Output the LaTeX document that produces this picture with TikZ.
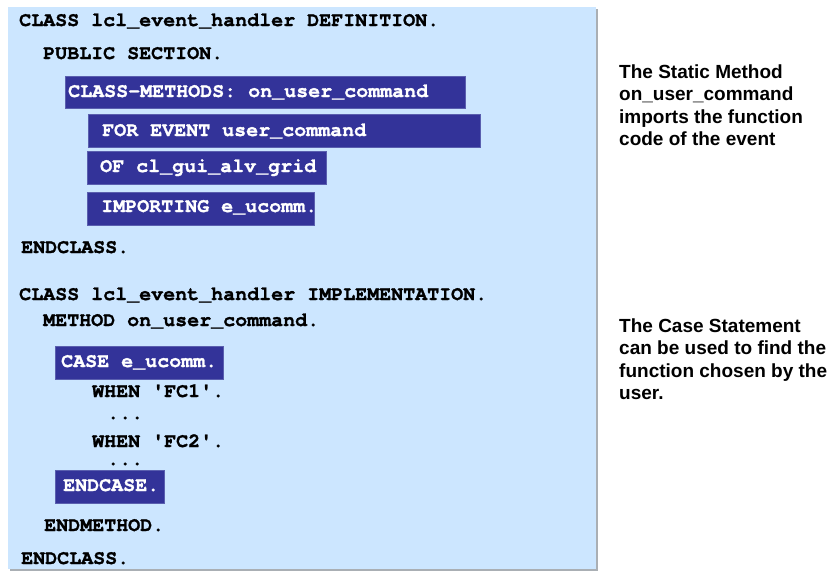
\documentclass[tikz,border=0pt]{standalone}
\usepackage{fontspec}
\setmainfont{Liberation Sans}
\newfontfamily\codefont{texgyrecursor}[Extension=.otf, UprightFont=*-regular, BoldFont=*-bold, BoldFeatures={FakeBold=1.3}]
\newfontfamily\notefont{Liberation Sans}
\definecolor{panelblue}{RGB}{204,230,255}
\definecolor{boxblue}{RGB}{51,51,153}
\definecolor{boxedge}{RGB}{90,95,175}
\definecolor{shadowgray}{RGB}{170,175,180}
\tikzset{
  code/.style={anchor=base west, inner sep=0pt, font=\codefont\bfseries\fontsize{20}{22}\selectfont, text=black},
  hcode/.style={code, text=white},
  dots/.style={code, text height=4pt, text depth=0pt},
  hbox/.style={fill=boxblue, draw=boxedge, line width=0.8pt},
  note/.style={anchor=base west, inner sep=0pt, align=left, font=\notefont\bfseries\fontsize{19}{22.5}\selectfont, text=black}
}
\begin{document}
\begin{tikzpicture}[x=1pt,y=-1pt]
\useasboundingbox (0,0) rectangle (837,579);
% panel with shadow
\fill[shadowgray] (10,9) rectangle (598,571);
\fill[panelblue] (8,7) rectangle (596,569);
% highlight boxes
\draw[hbox] (65,76) rectangle (465,108);
\draw[hbox] (88,114) rectangle (480,147);
\draw[hbox] (87,151) rectangle (326,184);
\draw[hbox] (87,192) rectangle (314,225);
\draw[hbox] (55,346) rectangle (223,379);
\draw[hbox] (55,470) rectangle (164,503);
% code text
\node[code] (l1) at (19,26) {CLASS lcl\_event\_handler DEFINITION.};
\node[code] (l2) at (43,59) {PUBLIC SECTION.};
\node[hcode] (l3) at (68,97) {CLASS-METHODS: on\_user\_command};
\node[hcode] (l4) at (102,136) {FOR EVENT user\_command};
\node[hcode] (l5) at (100,172) {OF cl\_gui\_alv\_grid};
\node[hcode] (l6) at (101,212) {IMPORTING e\_ucomm.};
\node[code] (l7) at (21,253) {ENDCLASS.};
\node[code] (l8) at (19,300) {CLASS lcl\_event\_handler IMPLEMENTATION.};
\node[code] (l9) at (43,326) {METHOD on\_user\_command.};
\node[hcode] (l10) at (61,367) {CASE e\_ucomm.};
\node[code] (l11) at (92,397) {WHEN 'FC1'.};
\node[dots] (l12) at (107,419) {...};
\node[code] (l13) at (92,447) {WHEN 'FC2'.};
\node[dots] (l14) at (107,465) {...};
\node[hcode] (l15) at (63,491) {ENDCASE.};
\node[code] (l16) at (44,531) {ENDMETHOD.};
\node[code] (l17) at (21,564) {ENDCLASS.};
% notes (base anchor = baseline of last line)
\node[note] (n1) at (619,145.5) {The Static Method\\on\_user\_command\\imports the function\\code of the event};
\node[note] (n2) at (619,399.5) {The Case Statement\\can be used to find the\\function chosen by the\\user.};
\end{tikzpicture}
\end{document}
